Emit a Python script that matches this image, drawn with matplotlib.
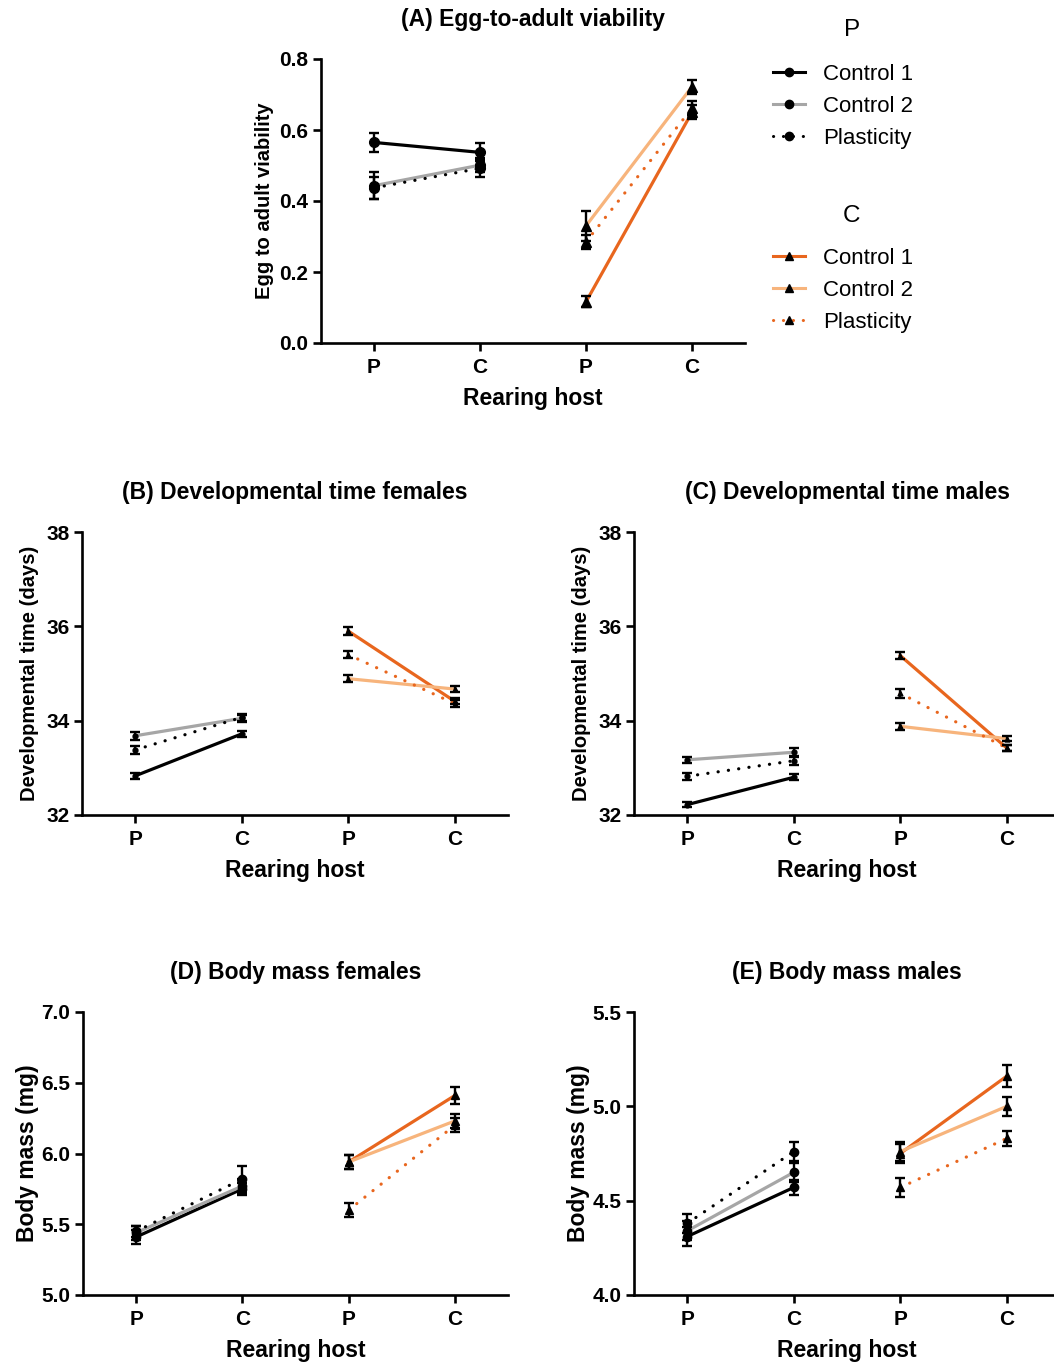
import numpy as np
import matplotlib; matplotlib.use('Agg')
import matplotlib.pyplot as plt
from matplotlib.lines import Line2D

plt.rcParams['font.family'] = ['Liberation Sans', 'DejaVu Sans']

hosts = ['P', 'C', 'P', 'C']
groups = ['Control 1', 'Control 2', 'Plasticity']

# (A) egg-to-adult viability: rows = Control 1, Control 2, Plasticity; cols = reared on P, C
viab_p = [[0.565, 0.537], [0.443, 0.501], [0.437, 0.492]]
viab_p_err = [[0.027, 0.025], [0.038, 0.020], [0.030, 0.025]]
viab_c = [[0.116, 0.650], [0.330, 0.722], [0.285, 0.661]]
viab_c_err = [[0.015, 0.020], [0.042, 0.020], [0.020, 0.020]]

# (B) developmental time females
devf_p = [[32.83, 33.72], [33.68, 34.05], [33.38, 34.07]]
devf_p_err = [[0.06, 0.06], [0.08, 0.07], [0.08, 0.08]]
devf_c = [[35.90, 34.41], [34.89, 34.67], [35.40, 34.36]]
devf_c_err = [[0.08, 0.06], [0.08, 0.06], [0.08, 0.07]]

# (C) developmental time males
devm_p = [[32.22, 32.80], [33.17, 33.33], [32.82, 33.15]]
devm_p_err = [[0.05, 0.06], [0.07, 0.10], [0.08, 0.10]]
devm_c = [[35.38, 33.42], [33.88, 33.62], [34.58, 33.42]]
devm_c_err = [[0.07, 0.06], [0.07, 0.06], [0.09, 0.07]]

# (D) body mass females
massf_p = [[5.41, 5.75], [5.44, 5.77], [5.45, 5.82]]
massf_p_err = [[0.05, 0.04], [0.05, 0.05], [0.04, 0.09]]
massf_c = [[5.94, 6.41], [5.94, 6.23], [5.60, 6.20]]
massf_c_err = [[0.05, 0.06], [0.05, 0.05], [0.05, 0.05]]

# (E) body mass males
massm_p = [[4.31, 4.57], [4.34, 4.65], [4.38, 4.76]]
massm_p_err = [[0.05, 0.04], [0.05, 0.05], [0.05, 0.05]]
massm_c = [[4.75, 5.16], [4.76, 5.00], [4.57, 4.83]]
massm_c_err = [[0.05, 0.06], [0.05, 0.05], [0.05, 0.04]]

p_cols = ['black', '#a6a6a6', 'black']
c_cols = ['#e8661e', '#f7b47c', '#e8661e']
styles = ['-', '-', (0, (0.05, 3.2))]

W, H = 1054, 1363
fig = plt.figure(figsize=(W / 100, H / 100), dpi=100)

def px_axes(x0, x1, ytop, ybot):
    return fig.add_axes([x0 / W, 1 - ybot / H, (x1 - x0) / W, (ybot - ytop) / H])

def draw(ax, p, p_err, c, c_err, title, ylabel, yticks, fmt, ms, ylab_fs, ylab_pad):
    for i in range(3):
        ax.plot([0, 1], p[i], color=p_cols[i], ls=styles[i], lw=2.3,
                dash_capstyle='round', zorder=2)
        ax.errorbar([0, 1], p[i], yerr=p_err[i], fmt='o', color='black', ms=ms,
                    capsize=3.3, elinewidth=1.7, capthick=1.7, zorder=3)
        ax.plot([2, 3], c[i], color=c_cols[i], ls=styles[i], lw=2.3,
                dash_capstyle='round', zorder=2)
        ax.errorbar([2, 3], c[i], yerr=c_err[i], fmt='^', color='black', ms=ms,
                    capsize=3.3, elinewidth=1.7, capthick=1.7, zorder=3)
    ax.set_xlim(-0.5, 3.5)
    ax.set_ylim(yticks[0], yticks[-1])
    ax.set_xticks(range(4))
    ax.set_xticklabels(hosts)
    ax.set_yticks(yticks)
    ax.set_yticklabels([fmt.format(v) for v in yticks])
    for s in ['top', 'right']:
        ax.spines[s].set_visible(False)
    for s in ['left', 'bottom']:
        ax.spines[s].set_linewidth(1.9)
    ax.tick_params(width=1.9, length=5.5, labelsize=15)
    ax.tick_params(axis='x', pad=5.5)
    for lab in ax.get_xticklabels() + ax.get_yticklabels():
        lab.set_fontweight('bold')
    ax.set_title(title, fontsize=16.5, fontweight='bold', pad=24)
    ax.set_xlabel('Rearing host', fontsize=16.5, fontweight='bold', labelpad=7)
    ax.set_ylabel(ylabel, fontsize=ylab_fs, fontweight='bold', labelpad=ylab_pad)

axA = px_axes(321, 745, 59, 343)
draw(axA, viab_p, viab_p_err, viab_c, viab_c_err, '(A) Egg-to-adult viability',
     'Egg to adult viability', [0.0, 0.2, 0.4, 0.6, 0.8], '{:.1f}', 7, 14.5, 4)

axB = px_axes(82, 508, 532, 815)
draw(axB, devf_p, devf_p_err, devf_c, devf_c_err, '(B) Developmental time females',
     'Developmental time (days)', [32, 34, 36, 38], '{:d}', 3.5, 14.5, 5)

axC = px_axes(634, 1060, 532, 815)
draw(axC, devm_p, devm_p_err, devm_c, devm_c_err, '(C) Developmental time males',
     'Developmental time (days)', [32, 34, 36, 38], '{:d}', 3.5, 14.5, 5)

axD = px_axes(83, 508, 1012, 1295)
draw(axD, massf_p, massf_p_err, massf_c, massf_c_err, '(D) Body mass females',
     'Body mass (mg)', [5.0, 5.5, 6.0, 6.5, 7.0], '{:.1f}', 6, 16.5, 2)

axE = px_axes(634, 1060, 1012, 1295)
draw(axE, massm_p, massm_p_err, massm_c, massm_c_err, '(E) Body mass males',
     'Body mass (mg)', [4.0, 4.5, 5.0, 5.5], '{:.1f}', 6, 16.5, 2)

# legends
p_handles = [Line2D([], [], color=p_cols[i], ls=styles[i], lw=2.2, marker='o',
                    mfc='black', mec='black', ms=6, dash_capstyle='round')
             for i in range(3)]
c_handles = [Line2D([], [], color=c_cols[i], ls=styles[i], lw=2.2, marker='^',
                    mfc='black', mec='black', ms=6, dash_capstyle='round')
             for i in range(3)]
for handles, title, ytitle, ytop in [(p_handles, 'P', 30, 64), (c_handles, 'C', 216, 248)]:
    fig.text(852 / W, 1 - ytitle / H, title, fontsize=17.5, ha='center', va='center')
    fig.legend(handles, groups, loc='upper left',
               bbox_to_anchor=(773 / W, 1 - ytop / H), frameon=False,
               fontsize=16, handlelength=1.45,
               handletextpad=0.8, labelspacing=0.5, borderpad=0, borderaxespad=0)

fig.savefig('out.png', dpi=100)
